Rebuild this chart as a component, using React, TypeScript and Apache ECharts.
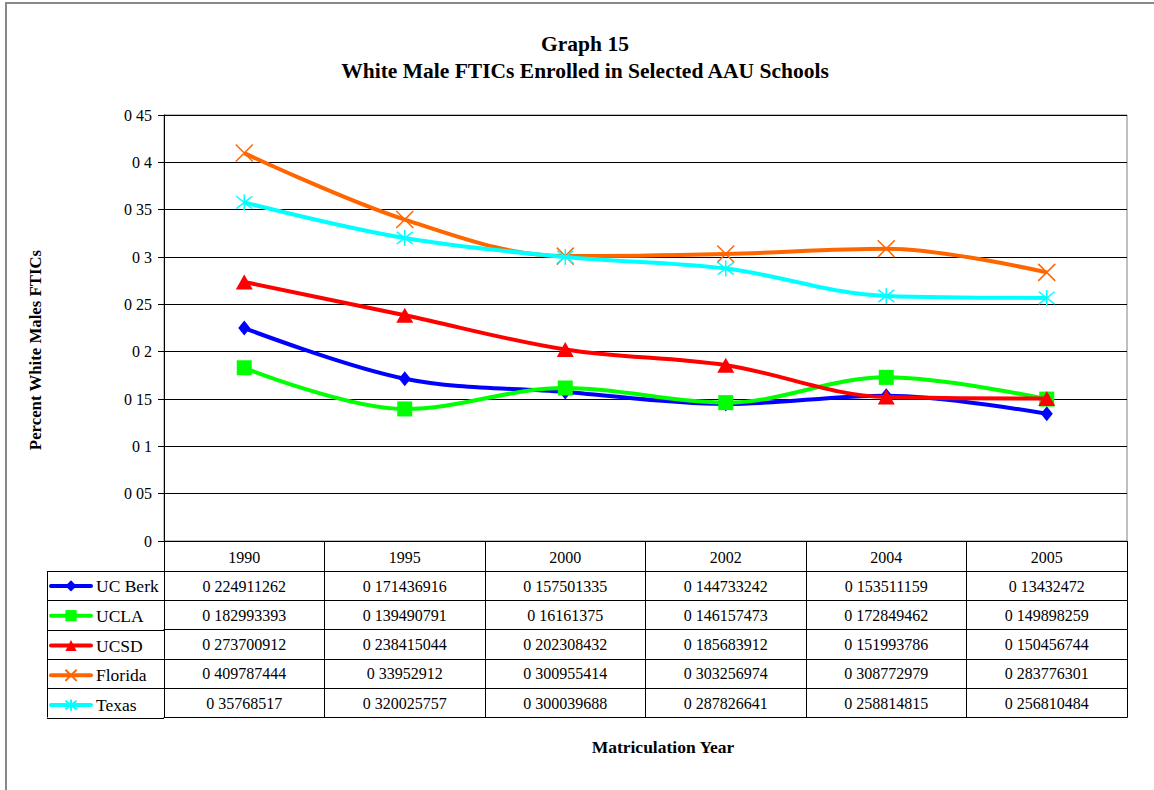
import React, { useEffect, useRef } from "react";
import * as echarts from "echarts";

const years = ["1990", "1995", "2000", "2002", "2004", "2005"];
const seriesNames = ["UC Berk", "UCLA", "UCSD", "Florida", "Texas"];
const ucBerk = [0.224911262, 0.171436916, 0.157501335, 0.144733242, 0.153511159, 0.13432472];
const ucla = [0.182993393, 0.139490791, 0.16161375, 0.146157473, 0.172849462, 0.149898259];
const ucsd = [0.273700912, 0.238415044, 0.202308432, 0.185683912, 0.151993786, 0.150456744];
const florida = [0.409787444, 0.33952912, 0.300955414, 0.303256974, 0.308772979, 0.283776301];
const texas = [0.35768517, 0.320025757, 0.300039688, 0.287826641, 0.258814815, 0.256810484];
const yTicks = [0, 0.05, 0.1, 0.15, 0.2, 0.25, 0.3, 0.35, 0.4, 0.45];

const allSeries = [ucBerk, ucla, ucsd, florida, texas];
const colors = ["#0000FF", "#00FF00", "#FF0000", "#FF6600", "#00FFFF"];

const FONT = "'Liberation Serif', 'DejaVu Serif', serif";
const GRID_LEFT = 164;
const GRID_RIGHT = 1127;
const GRID_TOP = 115;
const GRID_BOTTOM = 541;
const HEADER_H = 30;
const ROW_H = 29.3;
const LEG_LEFT = 47;
const LEG_FONT = 17.5;

const fmt = (v: number) => String(v).replace(".", " ");

export default function App() {
  const ref = useRef<HTMLDivElement>(null);
  useEffect(() => {
    if (!ref.current) return;
    const chart = echarts.init(ref.current, undefined, { renderer: "svg" });

    const symbols = [
      { symbol: "diamond", size: [12, 15], border: 0 },
      { symbol: "rect", size: 15, border: 0 },
      { symbol: "triangle", size: [17, 15], border: 0 },
      { symbol: "path://M0,0L10,10M10,0L0,10", size: 17, border: 1.5 },
      { symbol: "path://M0,0L10,10M10,0L0,10M5,-1.5L5,11.5", size: 16, border: 1.5 },
    ];

    const series: any[] = allSeries.map((d, i) => ({
      name: seriesNames[i],
      type: "line",
      data: d,
      xAxisIndex: 0,
      yAxisIndex: 0,
      smooth: 0.35,
      symbol: symbols[i].symbol,
      symbolSize: symbols[i].size,
      showAllSymbol: true,
      lineStyle: { color: colors[i], width: 4 },
      itemStyle: {
        color: colors[i],
        borderColor: colors[i],
        borderWidth: symbols[i].border,
      },
      silent: true,
      z: 2 + i,
    }));

    const xAxes: any[] = [
      {
        type: "category",
        data: years,
        gridIndex: 0,
        position: "bottom",
        boundaryGap: true,
        axisLine: { show: true, lineStyle: { color: "#000", width: 1 } },
        axisTick: { show: true, length: HEADER_H, interval: 0, lineStyle: { color: "#000" } },
        axisLabel: { show: true, margin: 8, fontFamily: FONT, fontSize: 16, color: "#000", interval: 0 },
        splitLine: { show: false },
      },
    ];
    allSeries.forEach((d, i) => {
      xAxes.push({
        type: "category",
        data: years,
        gridIndex: 0,
        position: "bottom",
        offset: HEADER_H + ROW_H * i,
        boundaryGap: true,
        axisLine: { show: true, lineStyle: { color: "#000", width: 1 } },
        axisTick: { show: true, length: ROW_H, interval: 0, lineStyle: { color: "#000" } },
        axisLabel: {
          show: true,
          margin: 7,
          interval: 0,
          fontFamily: FONT,
          fontSize: 16,
          color: "#000",
          formatter: (_v: string, idx: number) => fmt(d[idx]),
        },
        splitLine: { show: false },
      });
    });
    xAxes.push({
      type: "category",
      data: years,
      gridIndex: 0,
      position: "bottom",
      offset: HEADER_H + ROW_H * allSeries.length,
      axisLine: { show: true, lineStyle: { color: "#000", width: 1 } },
      axisTick: { show: false },
      axisLabel: { show: false },
      splitLine: { show: false },
    });

    const boldText = (text: string, x: number, y: number, size: number, rotation = 0) => ({
      type: "text",
      x,
      y,
      rotation,
      style: {
        text,
        fontFamily: FONT,
        fontWeight: "bold",
        fontSize: size,
        fill: "#000",
        textAlign: "center",
        textVerticalAlign: "middle",
      },
      silent: true,
    });

    const graphics: any[] = [
      {
        type: "rect",
        shape: { x: 6, y: 3, width: 1300, height: 1000 },
        style: { fill: "none", stroke: "#888", lineWidth: 2 },
        silent: true,
      },
      boldText("Graph 15", 585, 44, 21.5),
      boldText("White Male FTICs Enrolled in Selected AAU Schools", 585, 71, 21.5),
      boldText("Matriculation Year", 663, 747, 17.5),
      boldText("Percent White Males FTICs", 35, 350, 16.8, Math.PI / 2),
    ];
    // legend column box
    const tableTop = GRID_BOTTOM + HEADER_H;
    const tableBottom = tableTop + ROW_H * allSeries.length;
    graphics.push({
      type: "line",
      shape: { x1: LEG_LEFT + 0.5, y1: tableTop, x2: LEG_LEFT + 0.5, y2: tableBottom },
      style: { stroke: "#000", lineWidth: 1 },
      silent: true,
    });
    for (let i = 0; i <= allSeries.length; i++) {
      const y = Math.round(tableTop + ROW_H * i) + 0.5;
      graphics.push({
        type: "line",
        shape: { x1: LEG_LEFT, y1: y, x2: GRID_LEFT, y2: y },
        style: { stroke: "#000", lineWidth: 1 },
        silent: true,
      });
    }

    chart.setOption({
      animation: false,
      grid: {
        left: GRID_LEFT,
        top: GRID_TOP,
        width: GRID_RIGHT - GRID_LEFT,
        height: GRID_BOTTOM - GRID_TOP,
        show: true,
        borderColor: "#808080",
        borderWidth: 1,
        containLabel: false,
      },
      legend: {
        data: seriesNames,
        orient: "vertical",
        left: 49,
        top: tableTop + (ROW_H - LEG_FONT) / 2,
        padding: 0,
        itemWidth: 40,
        itemHeight: 14,
        itemGap: ROW_H - LEG_FONT,
        selectedMode: false,
        lineStyle: { width: 4, cap: "round" },
        textStyle: { fontFamily: FONT, fontSize: LEG_FONT, color: "#000" },
      },
      xAxis: xAxes,
      yAxis: {
        type: "value",
        min: 0,
        max: 0.45,
        interval: 0.05,
        axisLine: { show: true, lineStyle: { color: "#000" } },
        axisTick: { show: true, length: 6, lineStyle: { color: "#000" } },
        axisLabel: {
          margin: 12,
          fontFamily: FONT,
          fontSize: 16,
          color: "#000",
          formatter: (v: number) => {
            const t = yTicks.find((x) => Math.abs(x - v) < 1e-9);
            return fmt(t !== undefined ? t : +v.toFixed(2));
          },
        },
        splitLine: { show: true, lineStyle: { color: "#000", width: 1 } },
      },
      series,
      graphic: graphics,
    });
    return () => chart.dispose();
  }, []);
  return (
    <div
      ref={ref}
      style={{ position: "absolute", left: 0, top: 0, width: 1154, height: 790, background: "#fff" }}
    />
  );
}
